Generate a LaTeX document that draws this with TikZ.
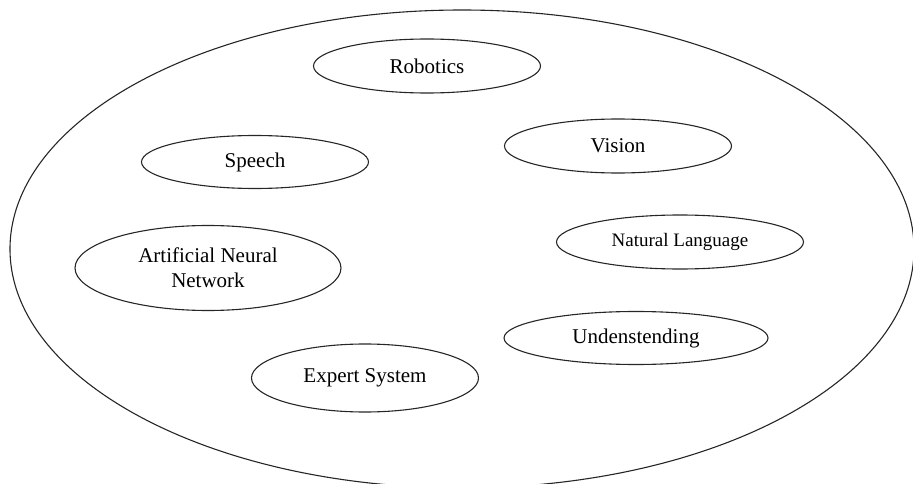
\documentclass[tikz,border=0pt]{standalone}
\usepackage{fontspec}
\setmainfont{Liberation Serif}
\usetikzlibrary{shapes.geometric}
\tikzset{
	topic/.style={ellipse, draw=black!85, line width=1.1pt, inner sep=0pt,
		font=\fontsize{21}{25}\selectfont, align=center},
}

\begin{document}
\begin{tikzpicture}[x=1pt, y=-1pt]
		%%%%% START %%%%%
		\useasboundingbox (0, 0) rectangle (913, 484);
		\clip (0, 0) rectangle (913, 484);
		
		\draw[line width=1.1pt, color=black!85] (462, 249) ellipse (452 and 239);
		
		\node[topic, minimum width=227pt, minimum height=54pt] (robotics) at (427, 66) {Robotics};
		\node[topic, minimum width=227pt, minimum height=54pt] (vision) at (618, 146) {Vision};
		\node[topic, minimum width=227pt, minimum height=53pt] (speech) at (255, 162) {Speech};
		\node[topic, minimum width=247pt, minimum height=54pt, font=\fontsize{19}{23}\selectfont] (natlang) at (680, 242) {Natural Language};
		\node[topic, minimum width=266pt, minimum height=85pt] (ann) at (208, 268) {Artificial Neural\\Network};
		\node[topic, minimum width=264pt, minimum height=53pt] (underst) at (636, 338) {Undenstending};
		\node[topic, minimum width=227pt, minimum height=68pt] (expert) at (365, 378) {Expert System};
		
		%%%%% END %%%%%
	\end{tikzpicture}
\end{document}
